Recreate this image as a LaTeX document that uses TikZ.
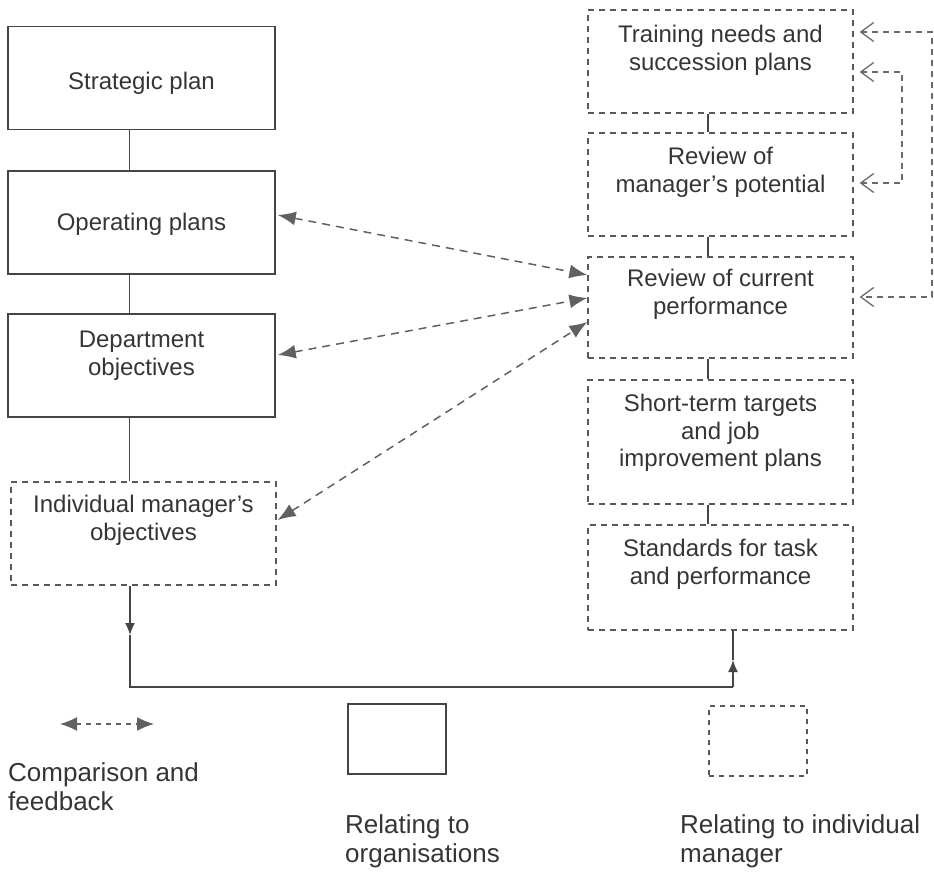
\documentclass[tikz,border=0pt]{standalone}
\usepackage{fontspec}
\setmainfont{Liberation Sans}
\usetikzlibrary{arrows.meta}
\definecolor{ln}{HTML}{454545}
\definecolor{tx}{HTML}{353535}
\begin{document}
\begin{tikzpicture}[x=1pt,y=-1pt,
  sbox/.style={draw=ln, line width=1.5pt, minimum width=267pt, minimum height=103pt, inner sep=0pt},
  dbox/.style={draw=ln!90, line width=1.3pt, dash pattern=on 6pt off 5pt, minimum width=265pt, minimum height=103pt, inner sep=0pt},
  lbl/.style={text=tx, font=\fontsize{24}{28}\selectfont, align=center, inner sep=0pt},
  leg/.style={text=tx, font=\fontsize{26}{29}\selectfont, align=left, inner sep=0pt, anchor=west},
  link/.style={draw=ln, line width=1.4pt},
  cmp/.style={draw=ln!85, line width=1.5pt, dash pattern=on 8pt off 6pt, {Latex[length=18pt,width=14pt]}-{Latex[length=18pt,width=14pt]}},
  cmpleg/.style={draw=ln!85, line width=1.5pt, dash pattern=on 5pt off 5pt, {Latex[length=17pt,width=14pt]}-{Latex[length=17pt,width=14pt]}},
  fb/.style={draw=ln!80, line width=1.3pt, dash pattern=on 6pt off 5pt, {Straight Barb[length=13pt,width=19pt]}-{Straight Barb[length=13pt,width=19pt]}},
  tipsm/.style={-{Latex[length=12pt,width=10pt]}},
]
\useasboundingbox (0,0) rectangle (934,872);

% left column (organisation)
\node[sbox] (sp) at (141.5,78) {};
\node[sbox] (op) at (141.5,222.5) {};
\node[sbox] (do) at (141.5,365.5) {};
\node[dbox] (ind) at (143.5,533.5) {};
\node[lbl] (spt) at (141.5,83) {Strategic plan};
\node[lbl] (opt) at (141.5,224) {Operating plans};
\node[lbl] (dot) at (141.5,356) {Department\\objectives};
\node[lbl] (indt) at (143.5,520) {Individual manager's\\objectives};

% right column (individual manager)
\node[dbox] (tn) at (720.5,61.5) {};
\node[dbox] (rp) at (720.5,184.5) {};
\node[dbox, minimum height=101pt] (rc) at (720.5,307.5) {};
\node[dbox, minimum height=124pt] (st) at (720.5,442) {};
\node[dbox, minimum height=105pt] (std) at (720.5,577.5) {};
\node[lbl] (tnt) at (720.5,50) {Training needs and\\succession plans};
\node[lbl] (rpt) at (720.5,172) {Review of\\manager's potential};
\node[lbl] (rct) at (720.5,294) {Review of current\\performance};
\node[lbl, font=\fontsize{24}{27.5}\selectfont] (stt) at (720.5,433) {Short-term targets\\and job\\improvement plans};
\node[lbl] (stdt) at (720.5,564) {Standards for task\\and performance};

% vertical links
\coordinate (lx) at (129.5,0);
\coordinate (rx) at (708,0);
\draw[link] (sp.south -| lx) -- (op.north -| lx);
\draw[link] (op.south -| lx) -- (do.north -| lx);
\draw[link] (do.south -| lx) -- (ind.north -| lx);
\draw[link] (tn.south -| rx) -- (rp.north -| rx);
\draw[link] (rp.south -| rx) -- (rc.north -| rx);
\draw[link] (rc.south -| rx) -- (st.north -| rx);
\draw[link] (st.south -| rx) -- (std.north -| rx);

% bottom loop
\coordinate (b1) at (130,635);
\coordinate (b2) at (130,687);
\coordinate (b3) at (733,687);
\coordinate (b4) at (733,660);
\draw[link, tipsm] (ind.south -| b1) -- (b1);
\draw[link] (b1) -- (b2) -- (b3);
\draw[link, tipsm] (b3) -- (b4);
\draw[link] (b4) -- (std.south -| b4);

% comparison and feedback
\draw[cmp] ([xshift=2pt,yshift=7.5pt]op.east) -- ([yshift=32.5pt]rc.west);
\draw[cmp] ([xshift=2pt,yshift=10.5pt]do.east) -- ([yshift=9.5pt]rc.west);
\draw[cmp] ([xshift=1pt,yshift=13.5pt]ind.east) -- ([yshift=-14.5pt]rc.west);

% right feedback loops
\coordinate (ox) at (932,0);
\coordinate (ix) at (902,0);
\coordinate (f1) at ([xshift=6pt,yshift=29.5pt]tn.east);
\coordinate (f2) at ([xshift=6pt,yshift=10.5pt]rc.east);
\coordinate (f3) at ([xshift=6pt,yshift=-10.5pt]tn.east);
\coordinate (f4) at ([xshift=6pt,yshift=1.5pt]rp.east);
\draw[fb] (f1) -- (f1 -| ox) -- (f2 -| ox) -- (f2);
\draw[fb] (f3) -- (f3 -| ix) -- (f4 -| ix) -- (f4);

% legend
\coordinate (la) at (60,724);
\coordinate (lb) at (154,724);
\draw[cmpleg] (la) -- (lb);
\node[sbox, minimum width=98pt, minimum height=70pt] (lo) at (397,739) {};
\node[dbox, minimum width=98pt, minimum height=70pt, dash pattern=on 5pt off 5pt] (li) at (758,741) {};
\node[leg] (lt1) at (8,787) {Comparison and\\feedback};
\node[leg] (lt2) at (345,841) {Relating to\\organisations};
\node[leg] (lt3) at (680,841) {Relating to individual\\manager};
\end{tikzpicture}
\end{document}
